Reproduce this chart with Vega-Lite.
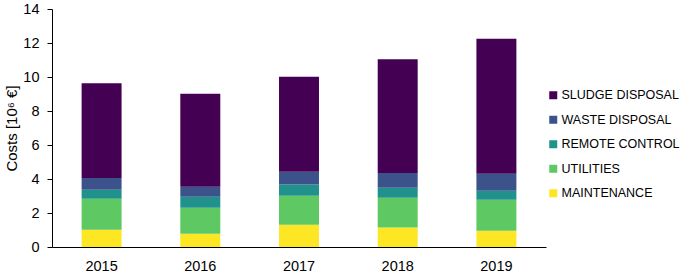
{
  "$schema": "https://vega.github.io/schema/vega-lite/v6.json",
  "width": 494,
  "height": 238,
  "autosize": "none",
  "padding": {"left": 52, "top": 9, "right": 139, "bottom": 29},
  "config": {
    "font": "Liberation Sans",
    "view": {"stroke": null},
    "axis": {"grid": false, "domainColor": "#000000", "tickColor": "#000000", "labelColor": "#000000", "titleColor": "#000000", "labelFontSize": 14.5, "titleFontSize": 15, "titleFontWeight": "normal"}
  },
  "data": {
    "values": [
      {"year": "2015", "category": "MAINTENANCE", "ord": 1, "cost": 1.02},
      {"year": "2015", "category": "UTILITIES", "ord": 2, "cost": 1.82},
      {"year": "2015", "category": "REMOTE CONTROL", "ord": 3, "cost": 0.53},
      {"year": "2015", "category": "WASTE DISPOSAL", "ord": 4, "cost": 0.69},
      {"year": "2015", "category": "SLUDGE DISPOSAL", "ord": 5, "cost": 5.57},
      {"year": "2016", "category": "MAINTENANCE", "ord": 1, "cost": 0.78},
      {"year": "2016", "category": "UTILITIES", "ord": 2, "cost": 1.53},
      {"year": "2016", "category": "REMOTE CONTROL", "ord": 3, "cost": 0.65},
      {"year": "2016", "category": "WASTE DISPOSAL", "ord": 4, "cost": 0.59},
      {"year": "2016", "category": "SLUDGE DISPOSAL", "ord": 5, "cost": 5.47},
      {"year": "2017", "category": "MAINTENANCE", "ord": 1, "cost": 1.31},
      {"year": "2017", "category": "UTILITIES", "ord": 2, "cost": 1.71},
      {"year": "2017", "category": "REMOTE CONTROL", "ord": 3, "cost": 0.65},
      {"year": "2017", "category": "WASTE DISPOSAL", "ord": 4, "cost": 0.76},
      {"year": "2017", "category": "SLUDGE DISPOSAL", "ord": 5, "cost": 5.59},
      {"year": "2018", "category": "MAINTENANCE", "ord": 1, "cost": 1.14},
      {"year": "2018", "category": "UTILITIES", "ord": 2, "cost": 1.76},
      {"year": "2018", "category": "REMOTE CONTROL", "ord": 3, "cost": 0.59},
      {"year": "2018", "category": "WASTE DISPOSAL", "ord": 4, "cost": 0.86},
      {"year": "2018", "category": "SLUDGE DISPOSAL", "ord": 5, "cost": 6.69},
      {"year": "2019", "category": "MAINTENANCE", "ord": 1, "cost": 0.96},
      {"year": "2019", "category": "UTILITIES", "ord": 2, "cost": 1.82},
      {"year": "2019", "category": "REMOTE CONTROL", "ord": 3, "cost": 0.53},
      {"year": "2019", "category": "WASTE DISPOSAL", "ord": 4, "cost": 1.00},
      {"year": "2019", "category": "SLUDGE DISPOSAL", "ord": 5, "cost": 7.94}
    ]
  },
  "mark": {"type": "bar"},
  "encoding": {
    "x": {
      "field": "year", "type": "nominal",
      "scale": {"paddingInner": 0.595, "paddingOuter": 0.3},
      "axis": {"title": null, "labelAngle": 0, "ticks": false, "labelPadding": 12, "domainWidth": 1}
    },
    "y": {
      "field": "cost", "type": "quantitative", "stack": "zero",
      "scale": {"domain": [0, 14], "nice": false},
      "axis": {"title": "Costs [10⁶ €]", "values": [0, 2, 4, 6, 8, 10, 12, 14], "tickSize": 5, "labelPadding": 8, "titlePadding": 3}
    },
    "order": {"field": "ord", "type": "quantitative"},
    "color": {
      "field": "category", "type": "nominal",
      "scale": {
        "domain": ["SLUDGE DISPOSAL", "WASTE DISPOSAL", "REMOTE CONTROL", "UTILITIES", "MAINTENANCE"],
        "range": ["#440154", "#3b528b", "#21918c", "#5ec962", "#fde725"]
      },
      "legend": {
        "title": null, "orient": "none", "legendX": 495, "legendY": 80,
        "symbolType": "square", "symbolSize": 64, "symbolStrokeWidth": 0,
        "labelFontSize": 12.5, "labelColor": "#000000", "labelOffset": 2, "rowPadding": 11.5
      }
    }
  }
}
